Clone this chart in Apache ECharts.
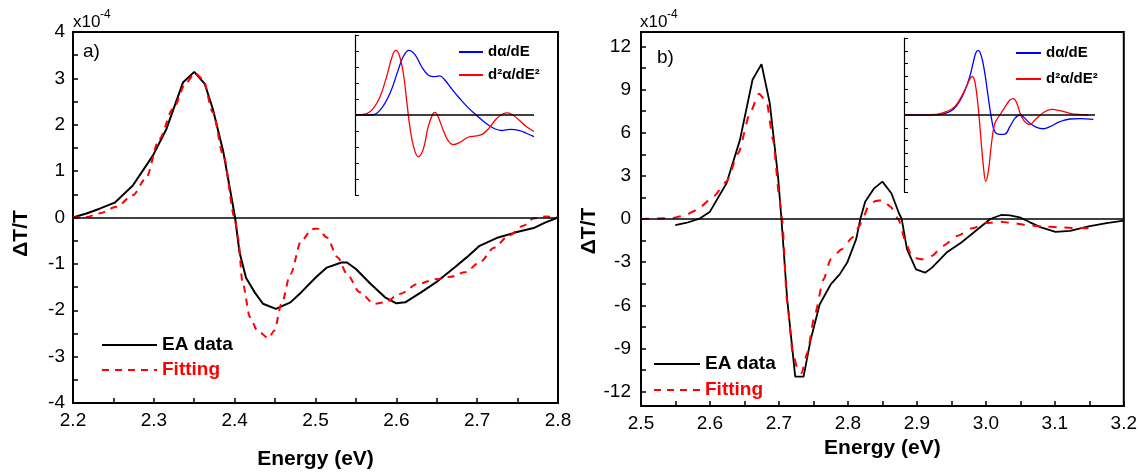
<!DOCTYPE html>
<html>
<head>
<meta charset="utf-8">
<script src="https://cdn.jsdelivr.net/npm/echarts@6/dist/echarts.min.js"></script>
<style>html,body{margin:0;padding:0;background:#fff}#c{width:1140px;height:475px}</style>
</head>
<body>
<div id="c"></div>
<script>
// ---------- DATA ----------
// Panel a) main (x: energy eV, y: ΔT/T in 1e-4)
const aEaE = [2.2,2.2166,2.233,2.2516,2.274,2.299,2.3156,2.336,2.35,2.363,2.373,2.386,2.4005,2.406,2.414,2.425,2.435,2.451,2.469,2.4825,2.5005,2.514,2.532,2.539,2.55,2.568,2.586,2.6,2.611,2.631,2.649,2.672,2.687,2.703,2.726,2.748,2.771,2.784,2.8];
const aEaV = [0,0.086,0.19,0.32,0.69,1.34,1.91,2.91,3.14,2.88,2.34,1.41,0,-0.75,-1.3,-1.62,-1.86,-1.97,-1.83,-1.61,-1.29,-1.08,-0.97,-0.97,-1.11,-1.43,-1.72,-1.85,-1.83,-1.61,-1.4,-1.08,-0.86,-0.61,-0.43,-0.32,-0.22,-0.11,0];
const aFitE = [2.2,2.2166,2.233,2.2537,2.274,2.29,2.307,2.3236,2.34,2.351,2.361,2.373,2.386,2.4,2.404,2.41,2.419,2.428,2.442,2.449,2.458,2.469,2.4825,2.496,2.503,2.514,2.5275,2.539,2.5545,2.5726,2.586,2.604,2.627,2.649,2.667,2.685,2.703,2.721,2.739,2.757,2.77,2.785,2.8];
const aFitV = [0,0.01,0.09,0.23,0.48,0.84,1.7,2.34,2.91,3.11,2.98,2.27,1.34,0,-0.43,-1.43,-2.15,-2.44,-2.6,-2.44,-1.86,-1.22,-0.5,-0.25,-0.24,-0.43,-0.86,-1.22,-1.61,-1.86,-1.83,-1.65,-1.43,-1.33,-1.28,-1.18,-0.97,-0.65,-0.39,-0.18,-0.02,0.02,0];
// Panel b) main
const bEaE = [2.5497,2.5666,2.5858,2.6,2.624,2.6435,2.6617,2.6747,2.6867,2.6987,2.7036,2.712,2.7236,2.7357,2.746,2.759,2.775,2.788,2.799,2.812,2.818,2.825,2.838,2.85,2.863,2.874,2.878,2.8856,2.8987,2.9119,2.922,2.943,2.9645,2.9855,3.0065,3.022,3.035,3.049,3.064,3.08,3.101,3.122,3.149,3.175,3.2];
const bEaV = [-0.42,-0.26,0.05,0.51,2.48,5.5,9.68,10.77,8.06,2.95,0,-5.6,-10.96,-10.96,-8.39,-5.94,-4.55,-3.85,-3.03,-1.4,0,1.2,2.13,2.6,1.79,0.4,0,-2.1,-3.5,-3.73,-3.38,-2.33,-1.63,-0.82,0,0.28,0.25,0.12,-0.23,-0.58,-0.89,-0.82,-0.51,-0.28,-0.12];
const bFitE = [2.5,2.5425,2.5617,2.581,2.605,2.624,2.641,2.658,2.671,2.682,2.6915,2.701,2.7045,2.712,2.72,2.728,2.733,2.741,2.7515,2.7646,2.775,2.791,2.8067,2.817,2.821,2.83,2.84,2.85,2.862,2.873,2.8856,2.893,2.909,2.922,2.938,2.959,2.98,3.001,3.022,3.038,3.059,3.08,3.106,3.133,3.159];
const bFitV = [0,0.05,0.21,0.63,1.56,2.6,4.58,7.36,8.71,8.17,5.5,1.32,0,-5.83,-9.32,-10.6,-10.72,-9.32,-6.76,-4.2,-2.8,-2.1,-1.28,-0.47,0,0.9,1.25,1.32,0.85,0,-1.86,-2.68,-2.8,-2.56,-1.86,-1.17,-0.65,-0.28,-0.19,-0.28,-0.42,-0.51,-0.58,-0.63,-0.65];
// Inset a) (arbitrary units)
const iaBlueE = [2.2,2.256,2.284,2.317,2.345,2.362,2.381,2.401,2.423,2.445,2.462,2.484,2.501,2.523,2.551,2.579,2.607,2.641,2.668,2.691,2.719,2.752,2.774,2.8];
const iaBlueV = [0,0,0.3,1.35,2.82,3.66,4.04,3.77,3.03,2.5,2.4,2.44,2.19,1.66,1.03,0.46,-0.02,-0.55,-0.86,-0.97,-0.9,-0.97,-1.14,-1.35];
const iaRedE = [2.2,2.239,2.261,2.284,2.306,2.323,2.336,2.348,2.362,2.373,2.384,2.397,2.412,2.429,2.445,2.46,2.468,2.479,2.496,2.512,2.529,2.551,2.579,2.607,2.629,2.652,2.674,2.696,2.713,2.73,2.752,2.774,2.8];
const iaRedV = [0,0.08,0.4,1.14,2.4,3.56,4.04,3.77,2.61,0.93,-0.76,-2.02,-2.61,-2.13,-0.76,0.04,0.17,-0.13,-0.97,-1.6,-1.85,-1.71,-1.39,-1.31,-1.18,-0.76,-0.23,0.08,0.13,-0.02,-0.34,-0.72,-1.03];
// Inset b)
const ibBlueE = [2.5,2.631,2.6677,2.6921,2.7166,2.7411,2.7533,2.7631,2.7717,2.7839,2.7962,2.8084,2.8206,2.8329,2.8512,2.8696,2.888,2.9063,2.9247,2.9369,2.9614,2.9859,3.0103,3.0348,3.0715,3.1082,3.145,3.1939];
const ibBlueV = [0,0.03,0.26,0.7,1.57,3.0,4.05,4.83,5.04,4.57,3.26,1.44,-0.26,-1.31,-1.51,-1.49,-0.91,-0.26,0,-0.13,-0.65,-0.97,-1.07,-0.91,-0.52,-0.31,-0.29,-0.34];
const ibRedE = [2.5,2.6187,2.6554,2.686,2.7105,2.7289,2.7411,2.7509,2.7607,2.7717,2.7803,2.79,2.7998,2.8096,2.8206,2.8329,2.8512,2.8696,2.888,2.9002,2.9124,2.9308,2.9491,2.9614,2.9797,3.0103,3.0409,3.0715,3.1082,3.145,3.1755];
const ibRedV = [0,0.05,0.26,0.65,1.44,2.22,2.79,3.0,2.48,0.65,-1.44,-3.79,-5.17,-4.31,-2.22,-0.65,0,0.6,1.17,1.28,0.97,-0.13,-0.65,-0.73,-0.39,0.18,0.44,0.34,0.13,0.03,0];
// Tick values
const bYLabels = [-12,-9,-6,-3,0,3,6,9,12];
const bYTicks = [-12,-10.5,-9,-7.5,-6,-4.5,-3,-1.5,0,1.5,3,4.5,6,7.5,9,10.5,12];

// ---------- CHART ----------
const zip = (xs, ys) => xs.map((x, i) => [x, ys[i]]);
const FONT = '"Liberation Sans", Arial, Helvetica, sans-serif';
const BLACK = '#000000', RED = '#ff0000', BLUE = '#0000ff';
const chart = echarts.init(document.getElementById('c'), null, {renderer: 'canvas'});

const axLine = {show: true, onZero: false, lineStyle: {color: BLACK, width: 2}};
const tick = {show: true, inside: true, length: 5, lineStyle: {color: BLACK, width: 1.5}};
const labelStyle = {color: BLACK, fontSize: 19, fontFamily: FONT};
const nameStyle = {color: BLACK, fontSize: 21, fontWeight: 'bold', fontFamily: FONT};
const zeroLine = {silent: true, symbol: 'none', label: {show: false}, animation: false,
  lineStyle: {color: BLACK, width: 1.6, type: 'solid'}, data: [{yAxis: 0}]};

function mainX(grid, min, max, gap) {
  return {gridIndex: grid, type: 'value', min: min, max: max, interval: 0.1,
    axisLine: axLine, axisTick: tick,
    minorTick: {show: true, splitNumber: 2, length: 5, lineStyle: {color: BLACK, width: 1.5}},
    splitLine: {show: false}, minorSplitLine: {show: false},
    axisLabel: Object.assign({margin: 8, formatter: v => v.toFixed(1)}, labelStyle),
    name: 'Energy (eV)', nameLocation: 'middle', nameGap: gap, nameTextStyle: nameStyle};
}
function insetX(grid, min, max) {
  return {gridIndex: grid, type: 'value', min: min, max: max, show: false, splitLine: {show: false}};
}
function insetY(grid, lim) {
  return {gridIndex: grid, type: 'value', min: -lim, max: lim, interval: 1,
    axisLine: {show: true, onZero: false, lineStyle: {color: BLACK, width: 1.2}},
    axisTick: {show: true, inside: true, length: 4, lineStyle: {color: BLACK, width: 1}},
    axisLabel: {show: false}, splitLine: {show: false}};
}
const mainLegendText = {fontSize: 19, fontWeight: 'bold', lineHeight: 20, fontFamily: FONT};
const insetLegendText = {fontSize: 15, fontWeight: 'bold', lineHeight: 16, color: BLACK, fontFamily: FONT};
const noSymbol = {opacity: 0};

const option = {
  animation: false,
  backgroundColor: '#ffffff',
  textStyle: {fontFamily: FONT},
  grid: [
    {left: 73, top: 32, width: 485, height: 374, show: true, borderColor: BLACK, borderWidth: 2, backgroundColor: 'transparent'},
    {left: 641, top: 32, width: 485, height: 374, show: true, borderColor: BLACK, borderWidth: 2, backgroundColor: 'transparent'},
    {left: 355, top: 35, width: 179, height: 160},
    {left: 904, top: 38, width: 191, height: 154}
  ],
  xAxis: [
    mainX(0, 2.2, 2.8, 46),
    mainX(1, 2.5, 3.2, 30),
    insetX(2, 2.2, 2.8),
    insetX(3, 2.5, 3.2)
  ],
  yAxis: [
    {gridIndex: 0, type: 'value', min: -4, max: 4, interval: 1,
      axisLine: axLine, axisTick: tick,
      minorTick: {show: true, splitNumber: 2, length: 5, lineStyle: {color: BLACK, width: 1.5}},
      splitLine: {show: false}, minorSplitLine: {show: false},
      axisLabel: Object.assign({margin: 8}, labelStyle),
      name: 'ΔT/T', nameLocation: 'middle', nameGap: 41, nameRotate: 90,
      nameTextStyle: Object.assign({padding: [0, 32, 0, 0]}, nameStyle)},
    {gridIndex: 1, type: 'value', min: -13, max: 13,
      axisLine: axLine,
      axisTick: Object.assign({customValues: bYTicks}, tick),
      splitLine: {show: false},
      axisLabel: Object.assign({margin: 10, customValues: bYLabels}, labelStyle),
      name: 'ΔT/T', nameLocation: 'middle', nameGap: 40, nameRotate: 90,
      nameTextStyle: Object.assign({padding: [0, 24, 0, 0]}, nameStyle)},
    insetY(2, 5),
    insetY(3, 6)
  ],
  legend: [
    {orient: 'vertical', left: 101, top: 335, padding: 0, itemWidth: 55, itemHeight: 2, itemGap: 5,
      selectedMode: false, textStyle: mainLegendText, itemStyle: noSymbol,
      data: [{name: 'EA data', textStyle: {color: BLACK}}, {name: 'Fitting', textStyle: {color: RED}}]},
    {orient: 'vertical', left: 653, top: 354, padding: 0, itemWidth: 46, itemHeight: 2, itemGap: 6,
      selectedMode: false, textStyle: mainLegendText, itemStyle: noSymbol,
      data: [{name: 'EA data', textStyle: {color: BLACK}}, {name: 'Fitting', textStyle: {color: RED}}]},
    {orient: 'vertical', left: 458, top: 44, padding: 0, itemWidth: 24, itemHeight: 2, itemGap: 7,
      selectedMode: false, textStyle: insetLegendText, itemStyle: noSymbol,
      data: ['dα/dE', 'd²α/dE²']},
    {orient: 'vertical', left: 1015, top: 45, padding: 0, itemWidth: 25, itemHeight: 2, itemGap: 10,
      selectedMode: false, textStyle: insetLegendText, itemStyle: noSymbol,
      data: ['dα/dE', 'd²α/dE²']}
  ],
  series: [
    {name: 'EA data', type: 'line', xAxisIndex: 0, yAxisIndex: 0, data: zip(aEaE, aEaV),
      symbol: 'none', smooth: false, lineStyle: {color: BLACK, width: 2}, itemStyle: {color: BLACK},
      markLine: zeroLine, z: 3},
    {name: 'Fitting', type: 'line', xAxisIndex: 0, yAxisIndex: 0, data: zip(aFitE, aFitV),
      symbol: 'none', smooth: 0.3, smoothMonotone: 'x', lineStyle: {color: RED, width: 2, type: [7, 6]}, itemStyle: {color: RED}, z: 4},
    {name: 'EA data', type: 'line', xAxisIndex: 1, yAxisIndex: 1, data: zip(bEaE, bEaV),
      symbol: 'none', smooth: false, lineStyle: {color: BLACK, width: 1.8}, itemStyle: {color: BLACK},
      markLine: zeroLine, z: 3},
    {name: 'Fitting', type: 'line', xAxisIndex: 1, yAxisIndex: 1, data: zip(bFitE, bFitV),
      symbol: 'none', smooth: 0.2, smoothMonotone: 'x', lineStyle: {color: RED, width: 2, type: [8, 8]}, itemStyle: {color: RED}, z: 4},
    {name: 'dα/dE', type: 'line', xAxisIndex: 2, yAxisIndex: 2, data: zip(iaBlueE, iaBlueV),
      symbol: 'none', smooth: 0.4, lineStyle: {color: BLUE, width: 1.3}, itemStyle: {color: BLUE},
      markLine: zeroLine},
    {name: 'd²α/dE²', type: 'line', xAxisIndex: 2, yAxisIndex: 2, data: zip(iaRedE, iaRedV),
      symbol: 'none', smooth: 0.4, lineStyle: {color: RED, width: 1.3}, itemStyle: {color: RED}},
    {name: 'dα/dE', type: 'line', xAxisIndex: 3, yAxisIndex: 3, data: zip(ibBlueE, ibBlueV),
      symbol: 'none', smooth: 0.4, lineStyle: {color: BLUE, width: 1.3}, itemStyle: {color: BLUE},
      markLine: zeroLine},
    {name: 'd²α/dE²', type: 'line', xAxisIndex: 3, yAxisIndex: 3, data: zip(ibRedE, ibRedV),
      symbol: 'none', smooth: 0.4, lineStyle: {color: RED, width: 1.3}, itemStyle: {color: RED}}
  ],
  graphic: [
    {type: 'text', left: 73, top: 14, style: {text: 'x10', fontSize: 17, fill: BLACK, fontFamily: FONT}},
    {type: 'text', left: 100, top: 9, style: {text: '-4', fontSize: 12, fill: BLACK, fontFamily: FONT}},
    {type: 'text', left: 640, top: 14, style: {text: 'x10', fontSize: 17, fill: BLACK, fontFamily: FONT}},
    {type: 'text', left: 667, top: 9, style: {text: '-4', fontSize: 12, fill: BLACK, fontFamily: FONT}},
    {type: 'text', left: 83, top: 42, style: {text: 'a)', fontSize: 19, fill: BLACK, fontFamily: FONT}},
    {type: 'text', left: 657, top: 48, style: {text: 'b)', fontSize: 19, fill: BLACK, fontFamily: FONT}}
  ]
};
chart.setOption(option);
</script>
</body>
</html>
